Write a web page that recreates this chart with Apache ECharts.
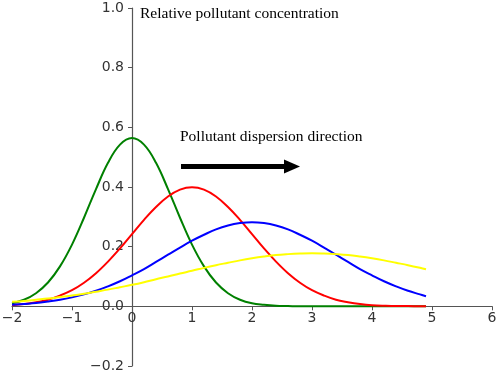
<!DOCTYPE html>
<html>
<head>
<meta charset="utf-8">
<script src="https://cdn.jsdelivr.net/npm/echarts@6/dist/echarts.min.js"></script>
<style>
html, body { margin: 0; padding: 0; background: #fff; }
#main { width: 498px; height: 374px; }
</style>
</head>
<body>
<div id="main"></div>
<script>
var xs = [-2.0, -1.8, -1.6, -1.4, -1.2, -1.0, -0.8, -0.6, -0.4, -0.2, 0, 0.2, 0.4, 0.6, 0.8, 1.0, 1.2, 1.4, 1.6, 1.8,
	2.0, 2.2, 2.4, 2.6, 2.8, 3.0, 3.2, 3.4, 3.6, 3.8, 4.0, 4.2, 4.4, 4.6, 4.8, 4.9];
var green = [0.010, 0.022, 0.044, 0.080, 0.134, 0.207, 0.297, 0.393, 0.481, 0.542, 0.564, 0.542, 0.481, 0.393, 0.297, 0.207, 0.134, 0.080, 0.044, 0.022,
	0.010, 0.005, 0.002, 0.001, 0, 0, 0, 0, 0, 0, 0, 0, 0, 0, 0, 0];
var red = [0.004, 0.008, 0.014, 0.022, 0.036, 0.054, 0.079, 0.111, 0.150, 0.194, 0.242, 0.290, 0.333, 0.368, 0.391, 0.399, 0.391, 0.368, 0.333, 0.290,
	0.242, 0.194, 0.150, 0.111, 0.079, 0.054, 0.036, 0.022, 0.014, 0.008, 0.004, 0.002, 0.001, 0.001, 0, 0];
var blue = [0.005, 0.008, 0.011, 0.016, 0.022, 0.030, 0.040, 0.052, 0.067, 0.084, 0.104, 0.125, 0.149, 0.173, 0.197, 0.220, 0.240, 0.258, 0.271, 0.279,
	0.282, 0.279, 0.271, 0.258, 0.240, 0.220, 0.197, 0.173, 0.149, 0.125, 0.104, 0.084, 0.067, 0.052, 0.040, 0.034];
var yellow = [0.015, 0.018, 0.022, 0.026, 0.031, 0.036, 0.042, 0.049, 0.056, 0.064, 0.072, 0.081, 0.091, 0.100, 0.110, 0.119, 0.129, 0.138, 0.146, 0.154,
	0.161, 0.167, 0.172, 0.175, 0.177, 0.178, 0.177, 0.175, 0.172, 0.167, 0.161, 0.154, 0.146, 0.138, 0.129, 0.124];
var seriesNames = ['green', 'red', 'blue', 'yellow'];
var seriesColors = ['#008000', '#ff0000', '#0000ff', '#ffff00'];
var seriesData = [green, red, blue, yellow];
var annotTitle = 'Relative pollutant concentration';
var annotArrow = 'Pollutant dispersion direction';

var W = 498, H = 374;
var gl = 12, gr = 6, gt = 8, gb = 8;
var xMin = -2, xMax = 6, yMin = -0.2, yMax = 1.0;
// axes cross at (0, 0): shift them inside the grid with offset
var xZeroPx = (0 - xMin) / (xMax - xMin) * (W - gl - gr);
var yZeroPx = (0 - yMin) / (yMax - yMin) * (H - gt - gb);

function pairs(ys) {
	var out = [];
	for (var i = 0; i < xs.length; i++) {
		out.push([xs[i], ys[i]]);
	}
	return out;
}

var series = [];
for (var k = 0; k < seriesData.length; k++) {
	series.push({
		name: seriesNames[k],
		type: 'line',
		data: pairs(seriesData[k]),
		smooth: 0.4,
		showSymbol: false,
		lineStyle: { color: seriesColors[k], width: 2 },
		itemStyle: { color: seriesColors[k] },
		z: 3 + k
	});
}

var tickFont = { fontFamily: 'DejaVu Sans', fontSize: 14, color: '#333' };
var myChart = echarts.init(document.getElementById('main'));
var option = {
	animation: false,
	backgroundColor: '#fff',
	grid: { left: gl, right: gr, top: gt, bottom: gb, containLabel: false, outerBoundsMode: 'none' },
	xAxis: {
		type: 'value',
		min: xMin, max: xMax, interval: 1,
		offset: -yZeroPx,
		splitLine: { show: false },
		axisLine: { onZero: false, lineStyle: { color: '#555', width: 1.2 } },
		axisTick: { show: true, inside: false, length: 4, lineStyle: { color: '#555' } },
		axisLabel: Object.assign({
			margin: 5,
			formatter: function(v) { return String(v).replace('-', '\u2212'); }
		}, tickFont)
	},
	yAxis: {
		type: 'value',
		min: yMin, max: yMax, interval: 0.2,
		offset: -xZeroPx,
		splitLine: { show: false },
		axisLine: { onZero: false, lineStyle: { color: '#555', width: 1.2 } },
		axisTick: { show: true, inside: false, length: 4, lineStyle: { color: '#555' } },
		axisLabel: Object.assign({
			margin: 8,
			formatter: function(v) { return v.toFixed(1).replace('-', '\u2212'); }
		}, tickFont)
	},
	series: series,
	graphic: [
		{
			type: 'text', left: 140, top: 6,
			style: { text: annotTitle, fontFamily: 'Liberation Serif', fontSize: 15.5, fill: '#000' }
		},
		{
			type: 'text', left: 180, top: 129,
			style: { text: annotArrow, fontFamily: 'Liberation Serif', fontSize: 15.5, fill: '#000' }
		},
		{
			type: 'rect', shape: { x: 181, y: 164, width: 106, height: 5 },
			style: { fill: '#000' }
		},
		{
			type: 'polygon', shape: { points: [[284, 159.5], [300, 166.5], [284, 173.5]] },
			style: { fill: '#000' }
		}
	]
};
myChart.setOption(option);
</script>
</body>
</html>
